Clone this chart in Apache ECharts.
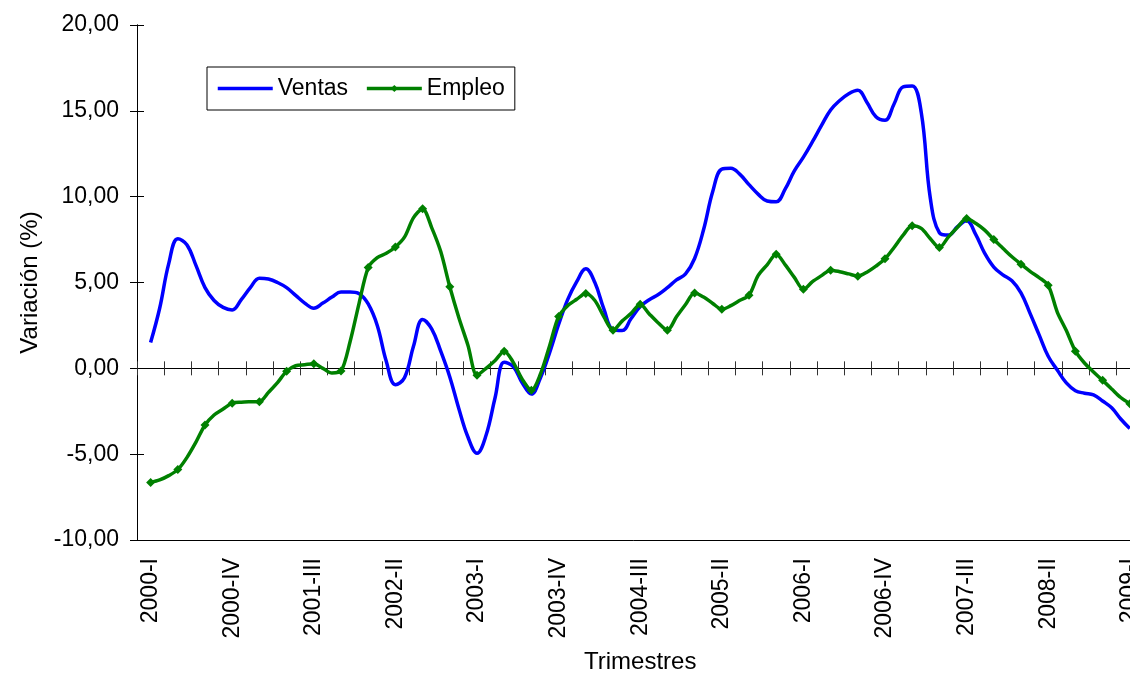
<!DOCTYPE html>
<html>
<head>
<meta charset="utf-8">
<title>Ventas y Empleo</title>
<script src="https://cdn.jsdelivr.net/npm/echarts@6/dist/echarts.min.js"></script>
<style>
  html, body { margin: 0; padding: 0; background: #fff; }
  #chart { width: 1130px; height: 675px; }
</style>
</head>
<body>
<div id="chart"></div>
<script>
// quarters 2000-I .. 2009-I, each split in 3 monthly slots
const years = [2000, 2001, 2002, 2003, 2004, 2005, 2006, 2007, 2008, 2009];
const romans = ['I', 'II', 'III', 'IV'];
const quarterLabels = [];
years.forEach(y => romans.forEach(r => quarterLabels.push(y + '-' + r)));
quarterLabels.length = 37;

// monthly values, first point = middle of 2000-I, last = middle of 2009-I
const ventas = [
  1.5, 3.5, 6.1, 7.55, 7.2, 6.0, 4.7, 3.95, 3.55, 3.4,
  4.0, 4.7, 5.25, 5.2, 5.0, 4.7, 4.25, 3.8, 3.5, 3.8,
  4.15, 4.45, 4.45, 4.35, 3.75, 2.5, 0.4, -0.95, -0.55, 1.3,
  2.85, 2.3, 1.0, -0.5, -2.35, -4.0, -4.95, -3.9, -1.7, 0.35,
  0.1, -0.85, -1.5, -0.55, 0.9, 2.55, 4.0, 5.05, 5.8, 5.0,
  3.45, 2.25, 2.2, 2.9, 3.6, 4.0, 4.3, 4.7, 5.15, 5.5,
  6.4, 8.1, 10.3, 11.6, 11.65, 11.3, 10.7, 10.15, 9.75, 9.7,
  10.45, 11.5, 12.3, 13.2, 14.15, 15.05, 15.6, 16.0, 16.2, 15.5,
  14.65, 14.45, 15.4, 16.4, 16.45, 14.9, 9.9, 7.9, 7.76, 8.25,
  8.6, 7.8, 6.7, 5.9, 5.45, 5.1, 4.4, 3.2, 1.95, 0.7,
  -0.1, -0.85, -1.3, -1.45, -1.55, -1.9, -2.3, -2.95, -3.5
];
const empleo = [
  -6.65, -6.5, -6.25, -5.9, -5.2, -4.3, -3.3, -2.72, -2.37, -2.03,
  -1.97, -1.95, -1.94, -1.4, -0.83, -0.17, 0.15, 0.21, 0.27, 0.0,
  -0.27, -0.16, 1.55, 3.8, 5.87, 6.45, 6.7, 7.07, 7.64, 8.78,
  9.3, 8.2, 6.8, 4.75, 2.95, 1.35, -0.4, 0.0, 0.46, 1.0,
  0.35, -0.65, -1.28, -0.33, 1.3, 3.02, 3.65, 4.02, 4.36, 3.95,
  3.0, 2.22, 2.75, 3.2, 3.73, 3.17, 2.64, 2.22, 3.0, 3.72,
  4.39, 4.15, 3.78, 3.44, 3.65, 3.96, 4.26, 5.4, 6.03, 6.65,
  6.03, 5.3, 4.6, 5.05, 5.4, 5.72, 5.63, 5.5, 5.37, 5.6,
  5.95, 6.38, 7.04, 7.76, 8.3, 8.15, 7.55, 7.04, 7.66, 8.22,
  8.73, 8.45, 8.05, 7.5, 7.0, 6.5, 6.07, 5.65, 5.29, 4.84,
  3.28, 2.2, 1.0, 0.31, -0.21, -0.7, -1.2, -1.7, -2.06
];

const font = "'Liberation Sans', Arial, sans-serif";

// 3 slots per quarter, the middle one carries the quarter label
const months = [];
quarterLabels.forEach(q => { months.push(q + '|a', q, q + '|c'); });

const ventasData = [null].concat(ventas, [null]);
// markers only on the quarter points
const empleoData = [null].concat(empleo.map((v, i) => ({
  value: v,
  symbol: i % 3 === 0 ? 'diamond' : 'none'
})), [null]);

const fmt = v => v.toFixed(2).replace('.', ',');

const chart = echarts.init(document.getElementById('chart'));
chart.setOption({
  animation: false,
  backgroundColor: '#fff',
  textStyle: { fontFamily: font },
  grid: { left: 137, top: 25, width: 1006.4, height: 515, outerBoundsMode: 'none', containLabel: false },
  legend: {
    data: [{ name: 'Ventas', itemStyle: { opacity: 0 } }, 'Empleo'],
    left: 207,
    top: 67,
    padding: [10, 10, 10, 9],
    itemGap: 17,
    itemWidth: 55,
    itemHeight: 9,
    borderColor: '#000',
    borderWidth: 1,
    borderRadius: 0,
    backgroundColor: '#fff',
    lineStyle: { width: 3.5 },
    textStyle: { fontSize: 23, color: '#000', fontFamily: font }
  },
  xAxis: [
    {
      type: 'category',
      data: months,
      position: 'bottom',
      name: 'Trimestres',
      nameLocation: 'middle',
      nameGap: 110,
      nameTextStyle: { fontSize: 24, color: '#000', fontFamily: font },
      axisLine: { onZero: false, lineStyle: { color: '#000', width: 1 } },
      axisTick: { show: false },
      axisLabel: {
        rotate: 90,
        margin: 18,
        fontSize: 23,
        color: '#000',
        fontFamily: font,
        interval: i => i % 9 === 1,
        formatter: v => v.split('|')[0]
      }
    },
    {
      type: 'category',
      data: months,
      position: 'bottom',
      axisLine: { onZero: true, onZeroAxisIndex: 0, lineStyle: { color: '#000', width: 1 } },
      axisTick: { show: true, inside: true, length: 7, interval: i => i % 3 === 0, lineStyle: { color: '#333' } },
      axisLabel: { show: false }
    },
    {
      type: 'category',
      data: months,
      position: 'bottom',
      axisLine: { onZero: true, onZeroAxisIndex: 0, lineStyle: { color: '#000', width: 1 } },
      axisTick: { show: true, inside: false, length: 7, interval: i => i % 3 === 0, lineStyle: { color: '#333' } },
      axisLabel: { show: false }
    }
  ],
  yAxis: [
    {
      type: 'value',
      position: 'left',
      min: -10,
      max: 20,
      interval: 5,
      name: 'Variación (%)',
      nameLocation: 'middle',
      nameGap: 95,
      nameTextStyle: { fontSize: 24, color: '#000', fontFamily: font },
      axisLine: { show: true, lineStyle: { color: '#000', width: 1 } },
      axisTick: { show: true, length: 7, lineStyle: { color: '#000' } },
      axisLabel: { margin: 18, fontSize: 23, color: '#000', fontFamily: font, formatter: fmt },
      splitLine: { show: false }
    },
    {
      type: 'value',
      position: 'left',
      min: -10,
      max: 20,
      interval: 5,
      axisLine: { show: true, lineStyle: { color: '#000', width: 1 } },
      axisTick: { show: true, inside: true, length: 7, lineStyle: { color: '#000' } },
      axisLabel: { show: false },
      splitLine: { show: false }
    }
  ],
  series: [
    {
      name: 'Ventas',
      type: 'line',
      data: ventasData,
      smooth: 0.4,
      symbol: 'none',
      lineStyle: { color: '#0000ff', width: 3.5 },
      itemStyle: { color: '#0000ff' }
    },
    {
      name: 'Empleo',
      type: 'line',
      data: empleoData,
      smooth: 0.3,
      symbol: 'diamond',
      symbolSize: 9,
      showAllSymbol: true,
      lineStyle: { color: '#008000', width: 3.5 },
      itemStyle: { color: '#008000' }
    }
  ]
});
</script>
</body>
</html>
